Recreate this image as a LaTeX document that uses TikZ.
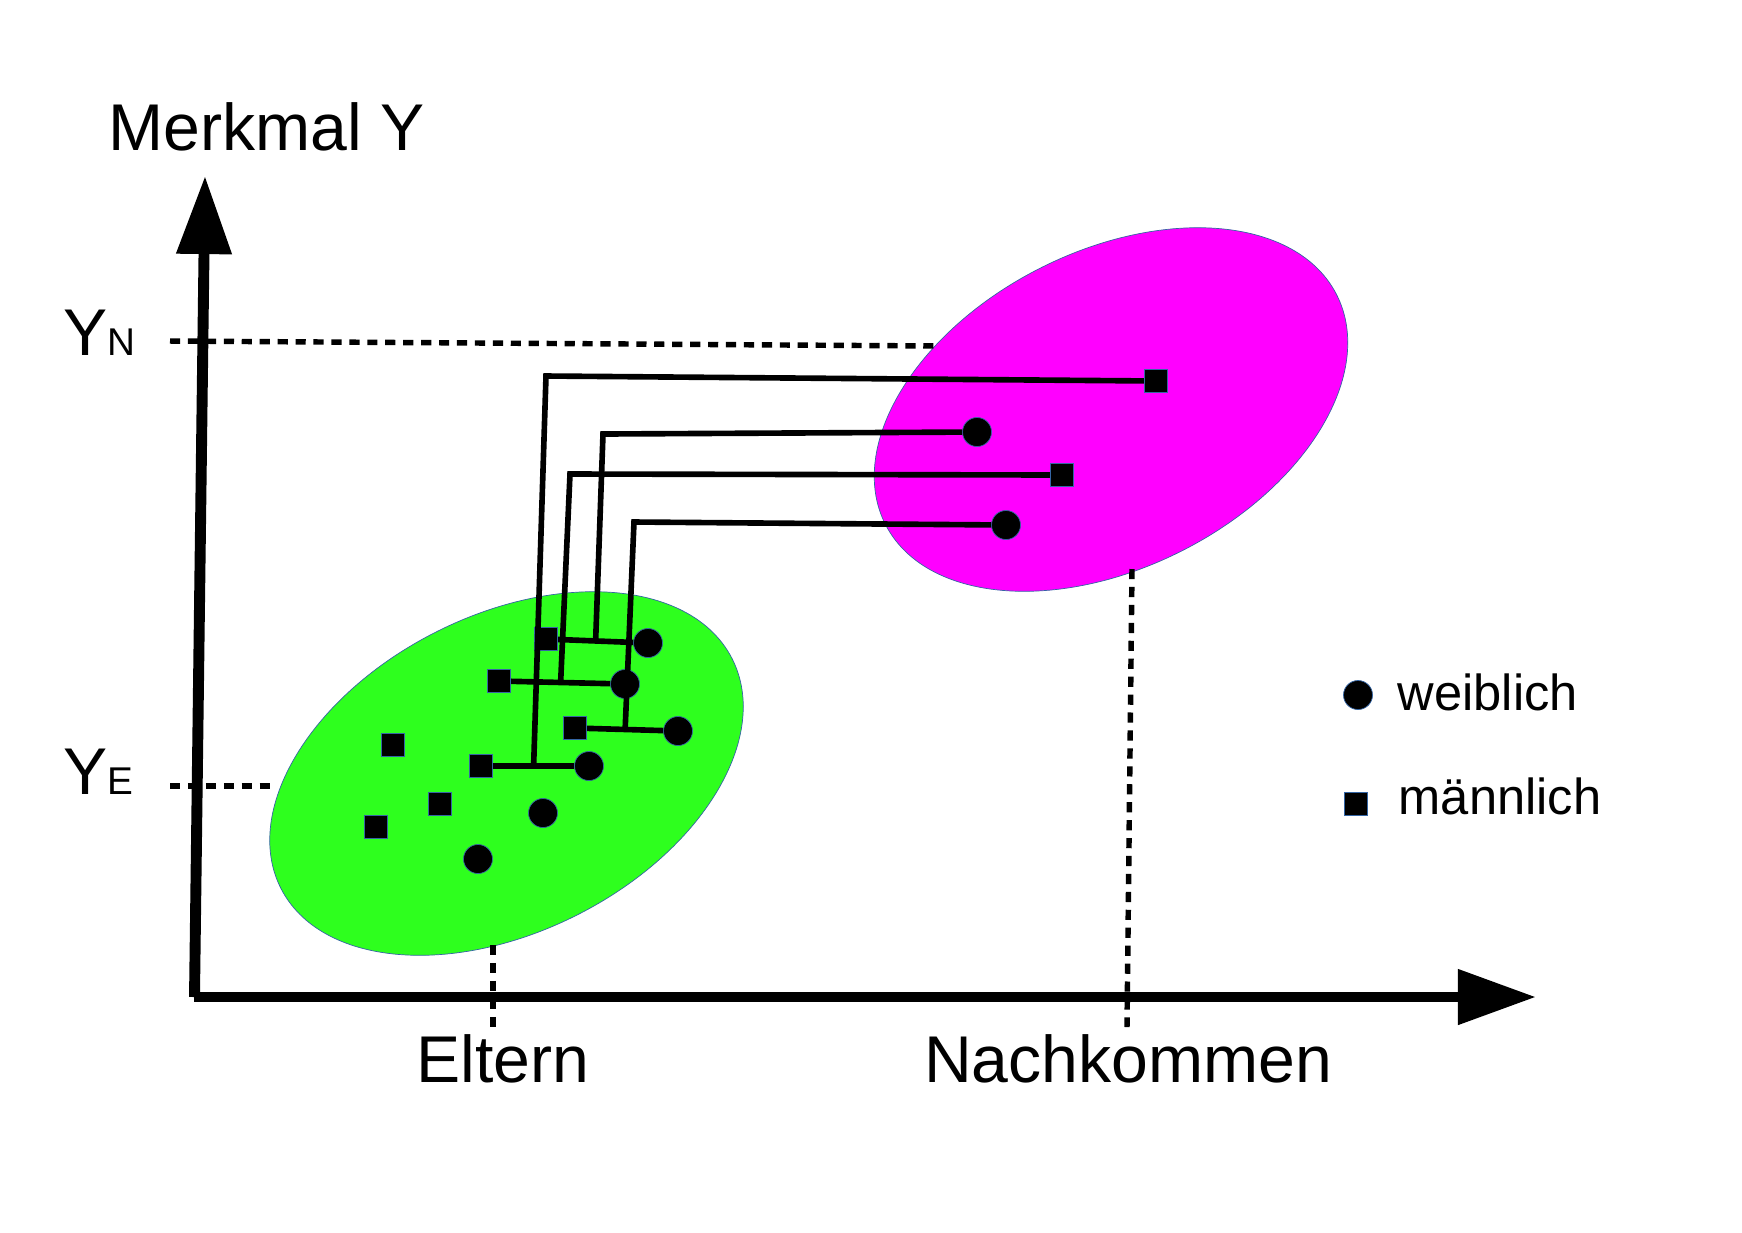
\documentclass[tikz,border=0pt]{standalone}
\usepackage{fontspec}
\setmainfont{Liberation Sans}
\usetikzlibrary{arrows.meta}

\definecolor{gruen}{HTML}{2EFF1E}
\definecolor{rosa}{HTML}{FF00FF}
\definecolor{rand}{HTML}{3465A4}

\tikzset{
  weib/.style={circle, fill=black, draw=rand, line width=0.2pt, minimum size=0.29cm, inner sep=0pt},
  maenn/.style={rectangle, fill=black, draw=rand, line width=0.2pt, minimum size=0.235cm, inner sep=0pt},
  linie/.style={line width=1.6pt},
  hilfslinie/.style={line width=1.55pt, dash pattern=on 2.9pt off 2.2pt},
  achse/.style={line width=3.1pt, -{Triangle[length=0.78cm, width=0.53cm]}},
  gross/.style={font=\fontsize{18.8}{22}\selectfont, inner sep=0pt},
  klein/.style={font=\fontsize{14.4}{17}\selectfont, inner sep=0pt}
}

\begin{document}
\begin{tikzpicture}[x=0.01cm, y=-0.01cm]
\useasboundingbox (0,0) rectangle (1742,1232);

\filldraw[fill=gruen, draw=rand, line width=0.2pt, rotate around={27:(506.5,773.5)}] (506.5,773.5) ellipse [x radius=2.53cm, y radius=1.58cm];
\filldraw[fill=rosa, draw=rand, line width=0.2pt, rotate around={27:(1111,409.5)}] (1111,409.5) ellipse [x radius=2.53cm, y radius=1.58cm];

\draw[hilfslinie] (170,341) -- (940,346);
\draw[hilfslinie] (170,786) -- (272,786);
\draw[hilfslinie] (493,945) -- (493,1032);
\draw[hilfslinie] (1132,569) -- (1127,1027);

\draw[achse] (194.5,997) -- (205,176);
\draw[achse] (194,997) -- (1536,997);

\node[gross, anchor=base west] (merkmal) at (108,150) {Merkmal Y};
\node[gross, anchor=base west] (yn) at (63,355) {Y{\fontsize{11}{12}\selectfont N}};
\node[gross, anchor=base west] (ye) at (63,794) {Y{\fontsize{11}{12}\selectfont E}};
\node[gross, anchor=base] (eltern) at (503,1082) {Eltern};
\node[gross, anchor=base] (nachkommen) at (1128,1082) {Nachkommen};

\node[maenn] (sqA) at (546,639) {};
\node[weib] (ciA) at (648,643) {};
\node[maenn] (sqB) at (499,681) {};
\node[weib] (ciB) at (625,684) {};
\node[maenn] (sqC) at (575,728) {};
\node[weib] (ciC) at (678,731) {};
\node[maenn] (sqD) at (481,766) {};
\node[weib] (ciD) at (589,766) {};
\node[maenn] (sqE) at (393,745) {};
\node[maenn] (sqF) at (440,804) {};
\node[maenn] (sqG) at (376,827) {};
\node[weib] (ciH) at (543,813) {};
\node[weib] (ciI) at (478,859) {};

\node[maenn] (n1) at (1156,381) {};
\node[weib] (n2) at (977,432) {};
\node[maenn] (n3) at (1062,475) {};
\node[weib] (n4) at (1006,525) {};

\draw[linie] (sqA) -- (ciA) coordinate[midway] (mA);
\draw[linie] (sqB) -- (ciB) coordinate[midway] (mB);
\draw[linie] (sqC) -- (ciC) coordinate[midway] (mC);
\draw[linie] (sqD) -- (ciD) coordinate[midway] (mD);

\coordinate (kD) at (546,376);
\coordinate (kA) at (603,434);
\coordinate (kB) at (570,474);
\coordinate (kC) at (634,522);

\draw[linie] (mD) -- (kD) -- (n1);
\draw[linie] (mA) -- (kA) -- (n2);
\draw[linie] (mB) -- (kB) -- (n3);
\draw[linie] (mC) -- (kC) -- (n4);

\node[weib] (lw) at (1358,695) {};
\node[klein, anchor=base west] (weiblich) at (1397,710) {weiblich};
\node[maenn] (lm) at (1356,804) {};
\node[klein, anchor=base west] (maennlich) at (1398,814) {männlich};
\end{tikzpicture}
\end{document}
